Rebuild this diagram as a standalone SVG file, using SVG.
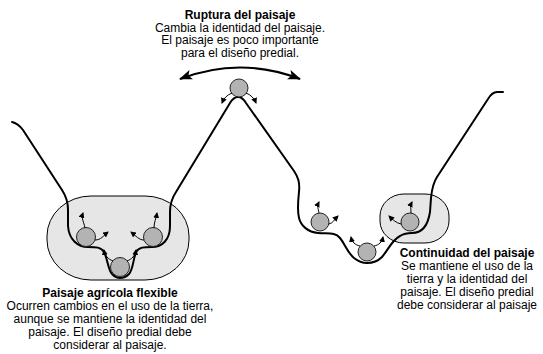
<svg xmlns="http://www.w3.org/2000/svg" width="543" height="354" viewBox="0 0 543 354">
<style>
.blob{fill:#e6e6e6;stroke:#000;stroke-width:1}
.ball{fill:#b3b3b3;stroke:#222;stroke-width:1}
.land{fill:none;stroke:#000;stroke-width:2;stroke-linecap:round;stroke-linejoin:round}
.mv{fill:none;stroke:#000;stroke-width:1;marker-end:url(#sa)}
.big{fill:none;stroke:#000;stroke-width:2;marker-start:url(#ba);marker-end:url(#ba)}
text{font-family:"Liberation Sans",Arial,Helvetica,sans-serif;font-size:12px;fill:#000;text-anchor:middle}
.t{font-weight:bold}
</style>
<defs>
<marker id="sa" markerUnits="userSpaceOnUse" markerWidth="7" markerHeight="6" refX="5" refY="3" orient="auto">
<path d="M0,0 L6,3 L0,6 z" fill="#000"/>
</marker>
<marker id="ba" markerUnits="userSpaceOnUse" markerWidth="14" markerHeight="10" refX="12" refY="5" orient="auto-start-reverse">
<path d="M0,0 L13,5 L0,10 L3,5 z" fill="#000"/>
</marker>
</defs>
<g id="zone-flexible"><rect class="blob" x="47" y="196" width="142" height="84" rx="44" ry="40"/></g>
<g id="zone-continuidad"><rect class="blob" x="380" y="194" width="69" height="49" rx="24" ry="22"/></g>
<g id="landscape">
<path class="land" d="M12,122 C17,123 20,126 23,130 L62,190 C66,196 68,202 68,210 L68,226 C69,240 78,247 88,247 C96,247 101,247 104,252 C108,260 108,270 112,274 C115,277 117,278 120,278 C123,278 126,277 129,274 C133,270 133,260 136,252 C139,247 144,247 152,247 C162,247 170,240 170,226 L170,212 C170,204 172,198 176,192 L230,103 C233,98 235,97 238,97 C241,97 243,98 246,103 L294,171 C298,177 300,182 299,192 C298,202 297,210 299,218 C301,226 308,232 318,233 C328,234 335,232 340,238 C345,244 347,252 354,258 C359,262 363,263 367,263 C372,263 377,262 382,257 C388,250 392,240 400,236 C405,233 408,233 412,233 C422,233 428,225 430,212 L431,198 C432,188 433,183 437,177 L488,99 C491,94 494,92 497,92 L503,92"/>
</g>
<g id="ball-peak"><circle class="ball" cx="239" cy="88" r="9"/></g>
<g id="ball-l1"><circle class="ball" cx="86" cy="237" r="9.5"/></g>
<g id="ball-l2"><circle class="ball" cx="153" cy="237" r="9.5"/></g>
<g id="ball-l3"><circle class="ball" cx="120" cy="267" r="9.5"/></g>
<g id="ball-r1"><circle class="ball" cx="320" cy="222" r="9"/></g>
<g id="ball-r2"><circle class="ball" cx="367" cy="252" r="9"/></g>
<g id="ball-r3"><circle class="ball" cx="410" cy="222" r="9"/></g>
<g id="connectors">
<path class="big" d="M180,79 Q240,56 300,79"/>
<path class="mv" d="M232,93 C227,95 224,98 222,103"/>
<path class="mv" d="M246,93 C251,95 254,98 256,103"/>
<path class="mv" d="M85,228 C84,222 81,219 83,213"/>
<path class="mv" d="M95,240 C101,240 103,236 108,232"/>
<path class="mv" d="M154,228 C154,222 156,219 157,213"/>
<path class="mv" d="M144,240 C139,240 136,236 131,232"/>
<path class="mv" d="M113,261 C108,259 105,256 104,250"/>
<path class="mv" d="M127,261 C132,259 135,256 136,250"/>
<path class="mv" d="M319,213 C318,208 317,206 319,202"/>
<path class="mv" d="M329,224 C333,223 334,220 338,216"/>
<path class="mv" d="M360,246 C355,245 352,242 351,237"/>
<path class="mv" d="M374,246 C379,245 382,242 383,237"/>
<path class="mv" d="M411,213 C411,208 410,206 412,202"/>
<path class="mv" d="M401,224 C396,223 392,219 389,216"/>
</g>
<g id="label-ruptura">
<text class="t" x="240" y="19">Ruptura del paisaje</text>
<text x="240" y="31.5">Cambia la identidad del paisaje.</text>
<text x="240" y="44">El paisaje es poco importante</text>
<text x="240" y="56.5">para el diseño predial.</text>
</g>
<g id="label-flexible">
<text class="t" x="110" y="297">Paisaje agrícola flexible</text>
<text x="110" y="310">Ocurren cambios en el uso de la tierra,</text>
<text x="110" y="323">aunque se mantiene la identidad del</text>
<text x="110" y="336">paisaje. El diseño predial debe</text>
<text x="110" y="349">considerar al paisaje.</text>
</g>
<g id="label-continuidad">
<text class="t" x="467" y="257">Continuidad del paisaje</text>
<text x="467" y="270">Se mantiene el uso de la</text>
<text x="467" y="283">tierra y la identidad del</text>
<text x="467" y="296">paisaje. El diseño predial</text>
<text x="467" y="309">debe considerar al paisaje</text>
</g>
</svg>
